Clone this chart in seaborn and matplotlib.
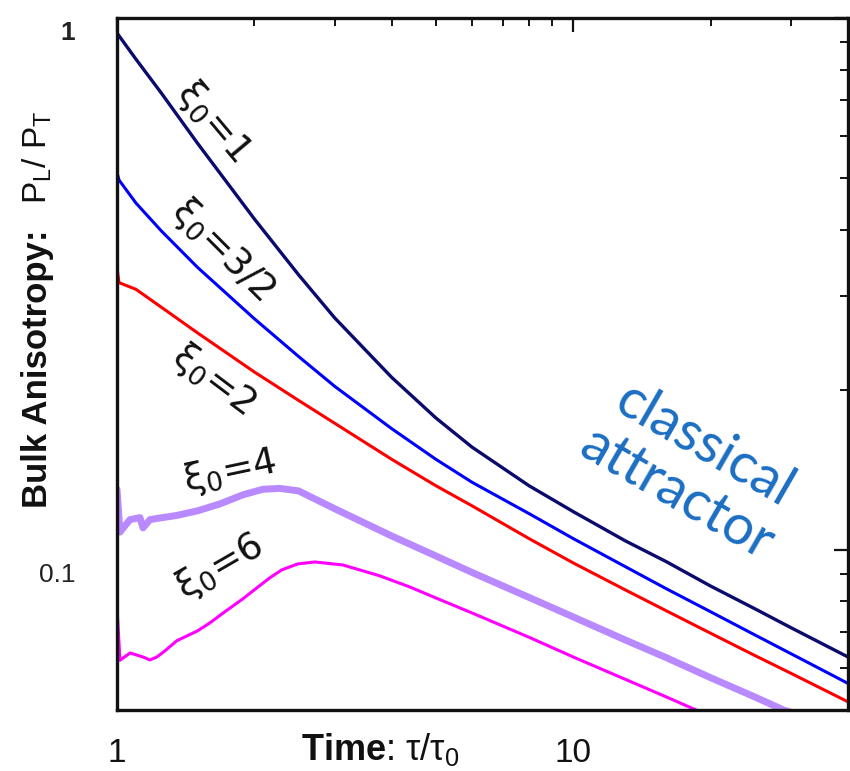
import matplotlib
matplotlib.use("Agg")
import matplotlib.pyplot as plt
import matplotlib.transforms as mtransforms
from matplotlib.ticker import FixedLocator, FixedFormatter, LogLocator, NullFormatter
import pandas as pd
import seaborn as sns

# Bulk anisotropy P_L/P_T versus tau/tau_0 for several initial xi_0
tau_xi1 = [1.0, 1.1, 1.25, 1.5, 2.0, 2.5, 3.0, 4.0, 5.0, 6.0, 8.0, 10.0, 13.0, 16.0, 20.0, 25.0, 30.0, 40.0]
ratio_xi1 = [0.937, 0.837, 0.723, 0.582, 0.419, 0.329, 0.273, 0.211, 0.177, 0.156, 0.132, 0.118, 0.104,
             0.095, 0.0855, 0.0775, 0.0714, 0.0629]

tau_xi15 = [1.0, 1.01, 1.1, 1.25, 1.5, 2.0, 2.5, 3.0, 4.0, 5.0, 6.0, 8.0, 10.0, 13.0, 16.0, 20.0, 25.0, 30.0, 40.0]
ratio_xi15 = [0.513, 0.496, 0.449, 0.398, 0.340, 0.272, 0.231, 0.203, 0.169, 0.148, 0.134, 0.117, 0.105,
              0.093, 0.0845, 0.0765, 0.0692, 0.0638, 0.0561]

tau_xi2 = [1.0, 1.01, 1.1, 1.25, 1.5, 2.0, 2.5, 3.0, 4.0, 5.0, 6.0, 8.0, 10.0, 13.0, 16.0, 20.0, 25.0, 30.0, 40.0]
ratio_xi2 = [0.339, 0.318, 0.309, 0.286, 0.256, 0.216, 0.191, 0.173, 0.148, 0.132, 0.121, 0.105, 0.0945,
             0.0841, 0.0768, 0.0697, 0.0633, 0.0586, 0.0518]

tau_xi4 = [1.0, 1.015, 1.041, 1.068, 1.123, 1.14, 1.181, 1.25, 1.353, 1.5, 1.68, 1.887, 2.087, 2.274,
           2.5, 3.0, 4.0, 5.0, 6.0, 8.0, 10.0, 13.0, 16.0, 20.0, 25.0, 28.9, 31.2]
ratio_xi4 = [0.130, 0.108, 0.111, 0.114, 0.115, 0.110, 0.114, 0.1149, 0.1161, 0.1184, 0.122, 0.1269,
             0.130, 0.1305, 0.1291, 0.1195, 0.1062, 0.0974, 0.0907, 0.0814, 0.0748, 0.0677, 0.0627,
             0.0575, 0.0529, 0.050, 0.049]

tau_xi6 = [1.0, 1.015, 1.068, 1.14, 1.181, 1.223, 1.274, 1.353, 1.5, 1.598, 1.723, 1.887, 2.024, 2.162,
           2.296, 2.489, 2.713, 3.123, 3.763, 4.377, 5.0, 6.0, 8.0, 10.0, 13.0, 16.0, 18.58, 19.84]
ratio_xi6 = [0.078, 0.062, 0.064, 0.0629, 0.0621, 0.0629, 0.0646, 0.0675, 0.0704, 0.0729, 0.0765, 0.0809,
             0.0848, 0.0886, 0.0917, 0.0941, 0.0949, 0.0937, 0.0894, 0.0852, 0.0812, 0.0761, 0.0685,
             0.0629, 0.0571, 0.0529, 0.050, 0.049]

series_labels = [r"ξ$_0$=1", r"ξ$_0$=3/2", r"ξ$_0$=2", r"ξ$_0$=4", r"ξ$_0$=6"]
series_colors = ["#0b0b6e", "#0000ff", "#ff0000", "#b889ff", "#ff00ff"]
series_widths = [2.4, 2.2, 2.2, 5.0, 2.2]

x_ticks = [1, 10]
x_tick_labels = ["1", "10"]
y_ticks = [0.1, 1]
y_tick_labels = ["0.1", "1"]

frames = []
for name, t, r in zip(series_labels,
                      [tau_xi1, tau_xi15, tau_xi2, tau_xi4, tau_xi6],
                      [ratio_xi1, ratio_xi15, ratio_xi2, ratio_xi4, ratio_xi6]):
    frames.append(pd.DataFrame({"tau": t, "ratio": r, "series": name}))
data = pd.concat(frames, ignore_index=True)

sns.set_theme(style="white")
plt.rcParams["font.family"] = ["Liberation Sans", "DejaVu Sans"]
plt.rcParams["mathtext.fontset"] = "custom"
plt.rcParams["mathtext.rm"] = "Liberation Sans"
plt.rcParams["mathtext.it"] = "Liberation Sans:italic"
plt.rcParams["mathtext.bf"] = "Liberation Sans:bold"

fig = plt.figure(figsize=(8.5, 7.71), dpi=100)
ax = fig.add_axes([117 / 850, 1 - 710 / 771, 731 / 850, 692 / 771])

for name, color, lw in zip(series_labels, series_colors, series_widths):
    sub = data[data["series"] == name]
    sns.lineplot(data=sub, x="tau", y="ratio", color=color, linewidth=lw,
                 estimator=None, sort=False, ax=ax, legend=False)

ax.set_xscale("log")
ax.set_yscale("log")
ax.set_xlim(1, 40)
ax.set_ylim(0.05, 1.0)

ax.xaxis.set_major_locator(FixedLocator(x_ticks))
ax.xaxis.set_major_formatter(FixedFormatter(x_tick_labels))
ax.yaxis.set_major_locator(FixedLocator(y_ticks))
ax.yaxis.set_major_formatter(FixedFormatter(y_tick_labels))
for axis in (ax.xaxis, ax.yaxis):
    axis.set_minor_locator(LogLocator(base=10, subs=range(2, 10), numticks=20))
    axis.set_minor_formatter(NullFormatter())

ax.tick_params(which="both", direction="in", top=True, right=True, color="#111111")
ax.tick_params(which="major", length=10, width=1.6)
ax.tick_params(which="minor", length=5.5, width=1.4)
ax.tick_params(axis="x", which="major", labelsize=24, pad=20, labelcolor="#111111")
ax.tick_params(axis="y", which="major", labelsize=19, pad=30, labelcolor="#222222")

for spine in ax.spines.values():
    spine.set_linewidth(2.4)
    spine.set_color("#111111")

# nudge the y tick labels slightly downward
for lab, dy in zip(ax.get_yticklabels(), [16.5, 9.0]):
    lab.set_transform(lab.get_transform() + mtransforms.ScaledTranslation(0, -dy / 72, fig.dpi_scale_trans))
ax.get_yticklabels()[1].set_fontweight("bold")

ax.set_xlabel(r"$\bf{Time}$: τ/τ$_0$", fontsize=26, color="#111111")
ax.xaxis.set_label_coords(0.36, -0.031)

ax.set_ylabel("Bulk Anisotropy:", fontsize=25, fontweight="bold", color="#111111")
ax.yaxis.set_label_coords(-0.086, 0.493)
ax.text(-0.086, 0.798, r"P$_\mathrm{L}$/ P$_\mathrm{T}$", transform=ax.transAxes,
        fontsize=24, rotation=90, ha="right", va="center", color="#111111")

# curve annotations
label_specs = [
    (0.131, 0.850, -50),
    (0.144, 0.665, -45),
    (0.131, 0.477, -37),
    (0.154, 0.345, 12),
    (0.141, 0.207, 30),
]
for name, (fx, fy, rot) in zip(series_labels, label_specs):
    ax.text(fx, fy, name, transform=ax.transAxes, fontsize=27, rotation=rot,
            rotation_mode="anchor", ha="center", va="center", color="#111111",
            family=["DejaVu Sans"], math_fontfamily="dejavusans")

ax.text(0.784, 0.347, "classical\nattractor", transform=ax.transAxes, fontsize=40,
        rotation=-30, rotation_mode="anchor", ha="center", va="center",
        linespacing=1.1, color="#1b6ec2", family=["Lato", "DejaVu Sans"], fontweight="normal")

fig.savefig("out.png", dpi=100)
